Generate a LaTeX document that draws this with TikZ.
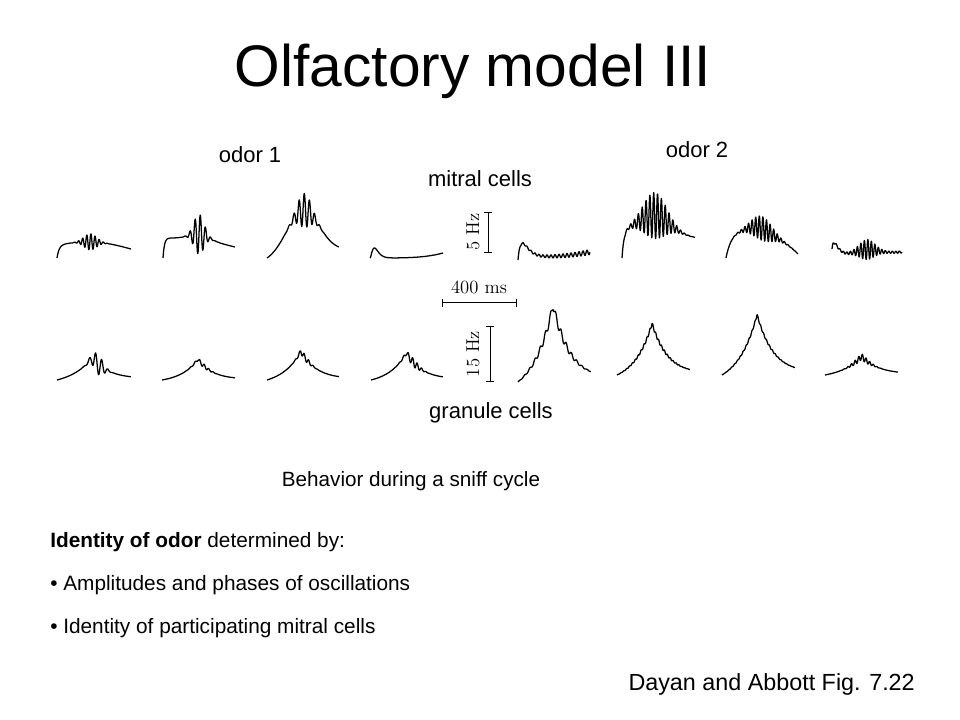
\documentclass[tikz,border=0pt]{standalone}
\usepackage{fontspec}
\setsansfont{Liberation Sans}
\usetikzlibrary{arrows.meta}

% one recorded cell: left x, width, base y, height above base
\newcommand{\celltrace}[4]{\draw[trace] plot[domain=0:1,samples=300] ({#1+#2*\x},{#3-(#4)});}

\begin{document}
\begin{tikzpicture}[
            x=0.75pt,y=-0.75pt,
            declare function={
              gs(\q,\m,\w)=exp(0-((\q-\m)/\w)*((\q-\m)/\w));
              rs(\q,\w)=1-exp(0-\q/\w);
              bp(\q,\m)=(\q/\m)*exp(1-\q/\m);
              tn(\q,\m,\w)=exp(0-abs(\q-\m)/\w)-exp(0-\m/\w)*(1-\q);
            },
            heading/.style={font=\sffamily\fontsize{44}{52}\selectfont,anchor=base,inner sep=0},
            lab/.style={font=\sffamily\fontsize{16.5}{19}\selectfont,anchor=base,inner sep=0},
            note/.style={font=\sffamily\fontsize{15.6}{19}\selectfont,anchor=base west,inner sep=0},
            unit/.style={font=\fontsize{14}{16}\selectfont,inner sep=0},
            trace/.style={draw,line width=0.95pt,line join=round},
            scalebar/.style={draw,line width=0.75pt,{Bar[width=6pt]}-{Bar[width=6pt]}}
          ]
          \useasboundingbox (0,0) rectangle (960,720);

          %headings
          \node[heading] (title) at (473,87) {Olfactory model III};
          \node[lab] (odor1) at (250,163) {odor 1};
          \node[lab] (odor2) at (697,158) {odor 2};
          \node[lab] (mitral) at (480,187) {mitral cells};
          \node[lab] (granule) at (491,418) {granule cells};

          %mitral cells
          \celltrace{57}{74}{258}{13*rs(\x,0.03)+5*sin(180*\x)-4*\x+8*gs(\x,0.45,0.12)*sin(360*18*\x)}
          \celltrace{163}{72}{258}{20*rs(\x,0.02)+6*gs(\x,0.5,0.2)-9*\x*\x+20*gs(\x,0.5,0.1)*sin(360*14*\x)}
          \celltrace{267}{72}{258}{46*gs(\x,0.5,0.32)+7*\x-4*(1-\x)+17*gs(\x,0.52,0.13)*sin(360*14*\x)}
          \celltrace{370}{73}{258}{10*bp(\x,0.06)*bp(\x,0.06)+5*\x*\x*\x*\x}
          \celltrace{518}{72}{260}{14*bp(\x,0.06)+3*rs(\x,0.03)+5*\x*\x*\x+(0.6+2*\x)*sin(360*18*\x)}
          \celltrace{622}{73}{260}{30*rs(\x,0.03)+18*gs(\x,0.45,0.3)-8*\x+23*gs(\x,0.45,0.22)*sin(360*19*\x)}
          \celltrace{726}{72}{258}{28*rs(\x,0.08)+5*gs(\x,0.45,0.2)-24*\x*\x*\x+12*gs(\x,0.5,0.2)*sin(360*20*\x)}
          \celltrace{832}{70}{257}{6*exp(0-\x/0.05)+9*bp(\x,0.04)+2+4*gs(\x,0.5,0.2)+3*\x+(1+9*gs(\x,0.5,0.15))*sin(360*20*\x)}

          %granule cells
          \celltrace{57}{74}{380}{24*tn(\x,0.47,0.265)+10*gs(\x,0.55,0.1)*sin(360*12*\x)}
          \celltrace{162}{73}{380}{22*tn(\x,0.49,0.22)+2*gs(\x,0.55,0.12)*sin(360*16*\x)}
          \celltrace{267}{72}{380}{31*tn(\x,0.47,0.24)+3*gs(\x,0.52,0.1)*sin(360*16*\x)}
          \celltrace{371}{72}{380}{29*tn(\x,0.49,0.23)+4*gs(\x,0.58,0.12)*sin(360*16*\x)}
          \celltrace{518}{73}{382}{83*tn(\x,0.48,0.25)+4*gs(\x,0.5,0.3)*sin(360*14*\x)}
          \celltrace{617}{73}{375}{55*tn(\x,0.48,0.226)+1.5*gs(\x,0.5,0.3)*sin(360*25*\x)}
          \celltrace{722}{73}{375}{65*tn(\x,0.48,0.24)+1*gs(\x,0.5,0.3)*sin(360*25*\x)}
          \celltrace{825}{73}{375}{20*tn(\x,0.5,0.26)+3*gs(\x,0.5,0.15)*sin(360*20*\x)}

          %scale bars
          \coordinate (hz5top) at (488,212);
          \coordinate (hz5bot) at (488,253);
          \coordinate (hz15top) at (490,326);
          \coordinate (hz15bot) at (490,382);
          \coordinate (msleft) at (442,303);
          \coordinate (msright) at (517,303);
          \path[scalebar] (hz5top) -- (hz5bot);
          \path[scalebar] (hz15top) -- (hz15bot);
          \path[scalebar] (msleft) -- (msright);
          \node[unit,rotate=90] (hz5) at (473,232) {5 Hz};
          \node[unit,rotate=90] (hz15) at (473,354) {15 Hz};
          \node[unit,anchor=base] (ms) at (479,293) {400 ms};

          %text
          \node[lab,font=\sffamily\fontsize{15.5}{19}\selectfont] (sniff) at (411,486) {Behavior during a sniff cycle};
          \node[note] (ident) at (50,547) {\textbf{Identity of odor} determined by:};
          \node[note] (amp) at (50,590) {• Amplitudes and phases of oscillations};
          \node[note] (part) at (50,633) {• Identity of participating mitral cells};
          \node[note,font=\sffamily\fontsize{17.5}{20}\selectfont,anchor=base east] (ref) at (915,690) {Dayan and Abbott Fig. 7.22};

      \end{tikzpicture}
\end{document}
